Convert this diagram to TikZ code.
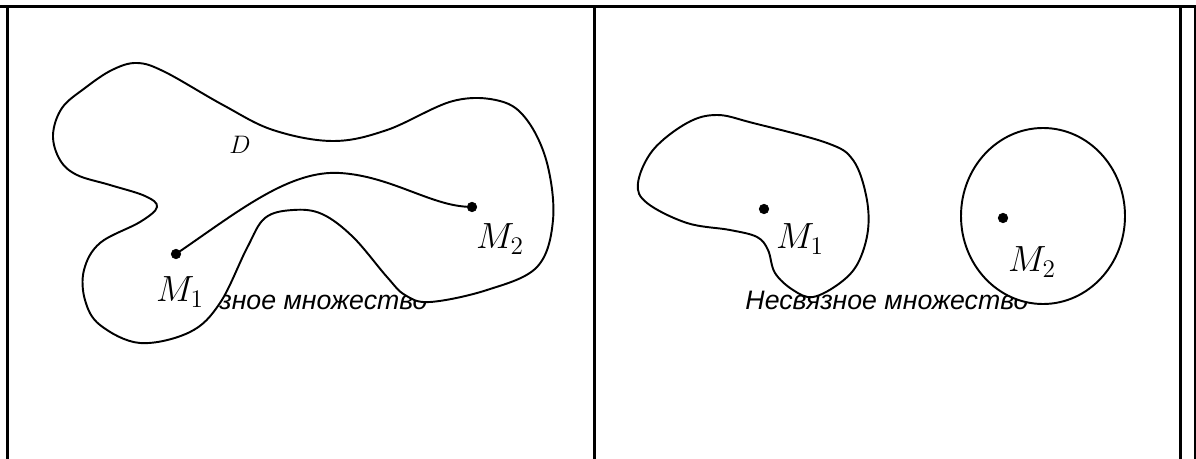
\documentclass[tikz,border=0pt]{standalone}
\usepackage{amsmath,amssymb}
\usepackage{fontspec}
\newfontfamily\cyrfont{Liberation Sans}
\usepackage{tikz}
\usetikzlibrary{calc,positioning}
\tikzset{
 set border/.style={line width=1.1pt,fill=white},
 set path/.style={line width=1.1pt},
 set point/.style={circle,fill=black,draw=black,minimum size=5.4pt,
                   inner sep=0pt,outer sep=0pt},
 set point label/.style={font=\fontsize{20}{23}\selectfont},
 set name/.style={font=\fontsize{14}{16}\selectfont},
 set caption/.style={font=\cyrfont\itshape\fontsize{15.2}{18}\selectfont,
                     anchor=base},
 table rule/.style={line width=1.7pt}
}
\begin{document}
\begin{tikzpicture}[x=0.02cm,y=-0.02cm]
 \useasboundingbox (0,0) rectangle (1196,459);
 % table
 \draw[table rule] (0,6.5)--(1196,6.5);
 \foreach \x in {7.5,594,1180.5,1195.5} \draw[table rule] (\x,6.5)--(\x,459);

 % captions (partly hidden by the sets)
 \node[set caption] (capL) at (300,309) {Связное множество};
 \node[set caption] (capR) at (887,309) {Несвязное множество};

 % connected set D
 \draw[set border] plot[smooth cycle,tension=0.6] coordinates {
   (137,63) (165,72) (223,105) (273,130) (333,141) (387,130) (453,101)
   (500,101) (527,120) (547,163) (553,220) (537,267) (487,290) (430,302)
   (405,295) (387,277) (353,237) (322,214) (293,210) (265,218) (247,248)
   (220,303) (190,332) (140,343) (100,325) (85,300) (84,270) (100,243)
   (140,222) (157,207) (145,196) (110,185) (77,175) (60,160) (53,135)
   (62,108) (85,88) (112,70)};
 \node[set name] (D) at (240,145) {$D$};

 \node[set point] (m1) at (176,254) {};
 \node[set point] (m2) at (472,207) {};
 \draw[set path] (m1) .. controls (240,210) and (290,170) .. (340,173)
   .. controls (390,176) and (430,205) .. (m2);
 \node[set point label] (m1lab) at (180,292) {$M_1$};
 \node[set point label] (m2lab) at (500,239) {$M_2$};

 % disconnected set
 \draw[set border] plot[smooth cycle,tension=0.6] coordinates {
   (717,115) (753,123) (827,143) (853,160) (866,195) (868,230) (858,263)
   (840,283) (813,297) (793,290) (775,273) (768,250) (757,237) (730,230)
   (687,223) (647,203) (638,183) (653,150) (687,123)};
 \draw[set border] (1043,216) ellipse [x radius=82,y radius=88];

 \node[set point] (n1) at (764,209) {};
 \node[set point] (n2) at (1003,218) {};
 \node[set point label] (n1lab) at (800,239) {$M_1$};
 \node[set point label] (n2lab) at (1032,262) {$M_2$};
\end{tikzpicture}
\end{document}
